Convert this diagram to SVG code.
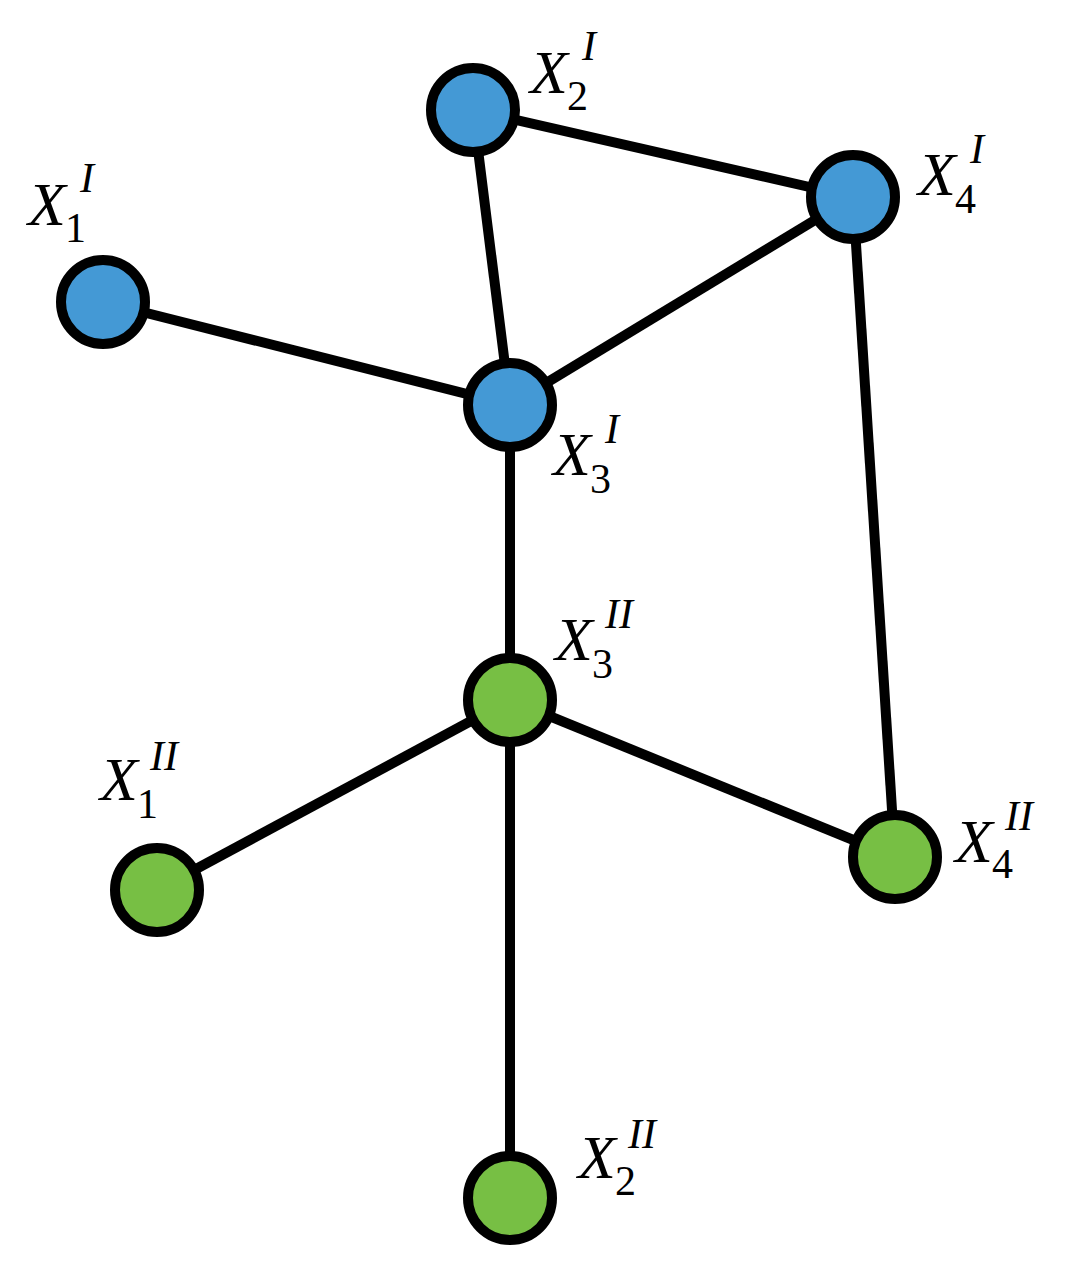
<svg xmlns="http://www.w3.org/2000/svg" width="1075" height="1277" viewBox="0 0 1075 1277">
<style>
.e{stroke:#000;stroke-width:10;fill:none}
.b{fill:#4499d5;stroke:#000;stroke-width:10}
.g{fill:#77bf44;stroke:#000;stroke-width:10}
text{font-family:"Liberation Serif",serif}
.x{font-size:62px;font-style:italic}
.s{font-size:42px}
.p{font-size:42px;font-style:italic}
</style>
<rect width="1075" height="1277" fill="#fff"/>
<g id="edges">
<line class="e" x1="103" y1="302" x2="510" y2="405"/>
<line class="e" x1="473" y1="110" x2="510" y2="405"/>
<line class="e" x1="473" y1="110" x2="853" y2="197"/>
<line class="e" x1="853" y1="197" x2="510" y2="405"/>
<line class="e" x1="510" y1="405" x2="510" y2="700"/>
<line class="e" x1="853" y1="197" x2="895" y2="857"/>
<line class="e" x1="510" y1="700" x2="157" y2="890"/>
<line class="e" x1="510" y1="700" x2="895" y2="857"/>
<line class="e" x1="510" y1="700" x2="510" y2="1198"/>
</g>
<g id="X1I"><circle class="b" cx="103" cy="302" r="42"/><text x="28" y="225" class="x">X</text><text x="65" y="242" class="s">1</text><text x="80" y="192" class="p">I</text></g>
<g id="X2I"><circle class="b" cx="473" cy="110" r="42"/><text x="530" y="93" class="x">X</text><text x="567" y="110" class="s">2</text><text x="582" y="60" class="p">I</text></g>
<g id="X4I"><circle class="b" cx="853" cy="197" r="42"/><text x="918" y="195" class="x">X</text><text x="955" y="213" class="s">4</text><text x="970" y="163" class="p">I</text></g>
<g id="X3I"><circle class="b" cx="510" cy="405" r="42"/><text x="553" y="475" class="x">X</text><text x="590" y="493" class="s">3</text><text x="605" y="443" class="p">I</text></g>
<g id="X3II"><circle class="g" cx="510" cy="700" r="42"/><text x="555" y="660" class="x">X</text><text x="592" y="678" class="s">3</text><text x="605" y="628" class="p">II</text></g>
<g id="X1II"><circle class="g" cx="157" cy="890" r="42"/><text x="100" y="800" class="x">X</text><text x="137" y="818" class="s">1</text><text x="150" y="770" class="p">II</text></g>
<g id="X4II"><circle class="g" cx="895" cy="857" r="42"/><text x="955" y="862" class="x">X</text><text x="992" y="878" class="s">4</text><text x="1005" y="830" class="p">II</text></g>
<g id="X2II"><circle class="g" cx="510" cy="1198" r="42"/><text x="578" y="1178" class="x">X</text><text x="615" y="1195" class="s">2</text><text x="628" y="1148" class="p">II</text></g>
</svg>
